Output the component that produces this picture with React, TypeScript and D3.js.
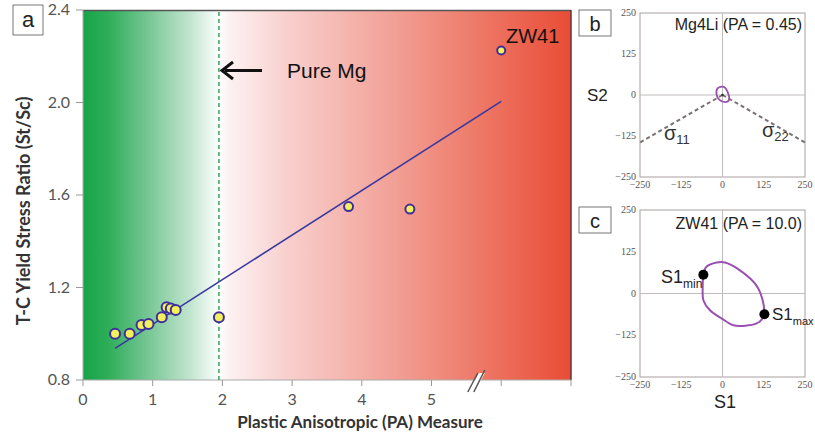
import React from 'react'
import * as d3 from 'd3'

// panel a data
const paValues = [0.46, 0.67, 0.84, 0.94, 1.13, 1.2, 1.26, 1.33, 1.95, 3.81, 4.69, 10.0]
const ratioValues = [1.0, 1.0, 1.038, 1.042, 1.071, 1.115, 1.109, 1.103, 1.071, 1.55, 1.539, 2.225]
const pointRadius = [5, 5, 5, 5, 5, 5, 5, 5, 5, 4.5, 4.5, 4]
const fitPA = [0.46, 10.0]
const fitRatio = [0.937, 2.005]
const xTicks = [0, 1, 2, 3, 4, 5]
const xTicksAfterBreak = [10, 14]
const yTicks = [0.8, 1.2, 1.6, 2.0, 2.4]
const pureMgPA = 1.95

// panels b and c
const stressTicks = [-250, -125, 0, 125, 250]
const mg4liLoop: [number, number][] = [[-15, 20], [4, 25], [16, 8], [20, -14], [8, -22], [-10, -14], [-18, 2]]
const sigmaLines: [number, number][][] = [[[0, 0], [-250, -145]], [[0, 0], [250, -145]]]
const zw41Loop: [number, number][] = [
  [-58, 56], [-48, 81], [-18, 93], [8, 93], [43, 76], [85, 44], [108, 16], [120, -14],
  [126, -48], [120, -76], [102, -90], [73, -96], [33, -95], [-2, -75], [-38, -50], [-58, -20], [-60, 21]
]
const s1Min: [number, number] = [-58, 56]
const s1Max: [number, number] = [127, -62]

const sans = 'Lato, "Open Sans", sans-serif'
const arial = '"Liberation Sans", Arial, sans-serif'
const serif = '"Liberation Serif", "DejaVu Serif", serif'

const gradStops = [
  [0, '#18a449'], [0.05, '#2dad58'], [0.13, '#74c592'], [0.22, '#c2e5cf'], [0.28, '#ffffff'],
  [0.3, '#fdf1f1'], [0.42, '#f8cfcd'], [0.6, '#f3a89f'], [0.8, '#ee7b6a'], [1, '#e94c36']
]

function Panel({ label, y0, y1, title, titleY }: any) {
  const sx = d3.scaleLinear().domain([-250, 250]).range([640, 805])
  const sy = d3.scaleLinear().domain([-250, 250]).range([y1, y0])
  return (
    <g>
      <rect x={579} y={y0 - 3} width={32} height={26} fill="#fff" stroke="#777" />
      <text x={595} y={y0 + 18} textAnchor="middle" fontFamily={arial} fontSize={20} fill="#222">{label}</text>
      <rect x={sx(-250)} y={sy(250)} width={sx(250) - sx(-250)} height={sy(-250) - sy(250)} fill="#fff" stroke="#aaa0a0" />
      <line x1={sx(0)} x2={sx(0)} y1={sy(250)} y2={sy(-250)} stroke="#c2bcbc" />
      <line x1={sx(-250)} x2={sx(250)} y1={sy(0)} y2={sy(0)} stroke="#c2bcbc" />
      {stressTicks.map(t => (
        <text key={'y' + t} x={636} y={sy(t) + 3} textAnchor="end" fontFamily={serif} fontSize={10} fill="#555">
          {t < 0 ? '\u2212' + Math.abs(t) : t}
        </text>
      ))}
      {stressTicks.map(t => (
        <text key={'x' + t} x={sx(t)} y={y1 + 11} textAnchor="middle" fontFamily={serif} fontSize={10} fill="#555">
          {t < 0 ? '\u2212' + Math.abs(t) : t}
        </text>
      ))}
      <text x={802} y={titleY} textAnchor="end" fontFamily={arial} fontSize={16} fill="#222">{title}</text>
    </g>
  )
}

export default function App() {
  const x = d3.scaleLinear().domain([0, 5.7, 10, 14]).range([83, 83 + 5.7 * 69.7, 83 + 6 * 69.7, 571])
  const y = d3.scaleLinear().domain([0.8, 2.4]).range([380, 10])

  const sx = d3.scaleLinear().domain([-250, 250]).range([640, 805])
  const syB = d3.scaleLinear().domain([-250, 250]).range([177, 13])
  const syC = d3.scaleLinear().domain([-250, 250]).range([377, 210])

  const loopB = d3.line<[number, number]>().x(d => sx(d[0])).y(d => syB(d[1])).curve(d3.curveCardinalClosed)
  const loopC = d3.line<[number, number]>().x(d => sx(d[0])).y(d => syC(d[1])).curve(d3.curveCardinalClosed)
  const fit = d3.line<number>().x(d => x(d)).y((d, i) => y(fitRatio[i]))

  const bx = x(5.65)
  return (
    <svg width={815} height={435} style={{ position: 'absolute', left: 0, top: 0, background: '#fff' }}>
      <defs>
        <linearGradient id="bg" gradientUnits="userSpaceOnUse" x1={83} x2={571} y1={0} y2={0}>
          {gradStops.map(([o, c]) => <stop key={o as number} offset={o as number} stopColor={c as string} />)}
        </linearGradient>
      </defs>

      {/* panel a */}
      <rect x={83} y={10} width={571 - 83} height={370} fill="url(#bg)" />
      <line x1={83} x2={571} y1={10.5} y2={10.5} stroke="#555" strokeWidth={1.5} />
      <line x1={571} x2={571} y1={10} y2={380} stroke="#5a3a36" strokeWidth={1.5} />
      <line x1={83} x2={83} y1={10} y2={380} stroke="#aaa" />
      <line x1={83} x2={571} y1={380} y2={380} stroke="#aaa" />
      {yTicks.map(t => (
        <g key={t}>
          <line x1={76} x2={83} y1={y(t)} y2={y(t)} stroke="#999" />
          <text x={70} y={y(t) + 5} textAnchor="end" fontFamily={sans} fontSize={16} fill="#555">{t.toFixed(1)}</text>
        </g>
      ))}
      {xTicks.map(t => (
        <g key={t}>
          <line x1={x(t)} x2={x(t)} y1={380} y2={386} stroke="#999" />
          <text x={x(t)} y={405} textAnchor="middle" fontFamily={sans} fontSize={16} fill="#555">{t}</text>
        </g>
      ))}
      {xTicksAfterBreak.map(t => (
        <line key={t} x1={x(t)} x2={x(t)} y1={380} y2={386} stroke="#999" />
      ))}
      <polygon points={`${bx - 8},392 ${bx + 2},373 ${bx + 8},373 ${bx - 2},392`} fill="#fff" />
      <line x1={bx - 9} y1={392} x2={bx + 1} y2={373} stroke="#555" strokeWidth={1.5} />
      <line x1={bx - 3} y1={392} x2={bx + 8} y2={370} stroke="#555" strokeWidth={1.5} />

      <line x1={x(pureMgPA)} x2={x(pureMgPA)} y1={12} y2={380} stroke="#3aa35a" strokeWidth={1.5} strokeDasharray="4,3" />
      <line x1={225} x2={262} y1={70.5} y2={70.5} stroke="#111" strokeWidth={3} />
      <path d="M233,62 L222,70.5 L233,79" fill="none" stroke="#111" strokeWidth={3} />
      <text x={287} y={78} fontFamily={arial} fontSize={21} fill="#111">Pure Mg</text>
      <text x={506} y={43} fontFamily={arial} fontSize={20} fill="#111">ZW41</text>

      <path d={fit(fitPA) || ''} fill="none" stroke="#3838a0" strokeWidth={1.6} />
      {paValues.map((p, i) => (
        <circle key={i} cx={x(p)} cy={y(ratioValues[i])} r={pointRadius[i]} fill="#f3f05c" stroke="#3f2f9c" strokeWidth={2} />
      ))}

      <rect x={13} y={5} width={30} height={30} fill="#fff" stroke="#777" />
      <text x={28} y={27} textAnchor="middle" fontFamily={arial} fontSize={22} fill="#222">a</text>
      <text transform="translate(30,211) rotate(-90)" textAnchor="middle" fontFamily={sans} fontWeight="bold" fontSize={18} fill="#333">
        T-C Yield Stress Ratio (St/Sc)
      </text>
      <text x={360} y={428} textAnchor="middle" fontFamily={sans} fontWeight="bold" fontSize={17} fill="#333">
        Plastic Anisotropic (PA) Measure
      </text>

      {/* panel b */}
      <Panel label="b" y0={13} y1={177} title="Mg4Li (PA = 0.45)" titleY={30} />
      <text x={587} y={101} fontFamily={arial} fontSize={17} fill="#222">S2</text>
      {sigmaLines.map((l, i) => (
        <line key={i} x1={sx(l[0][0])} y1={syB(l[0][1])} x2={sx(l[1][0])} y2={syB(l[1][1])} stroke="#7a7070" strokeWidth={2} strokeDasharray="4,3" />
      ))}
      <path d={loopB(mg4liLoop) || ''} fill="none" stroke="#9a50b0" strokeWidth={1.8} />
      <circle cx={sx(0)} cy={syB(0)} r={1.3} fill="#333" />
      <text x={664} y={140} fontFamily={arial} fontSize={20} fill="#333">σ<tspan fontSize={13} dy={4}>11</tspan></text>
      <text x={762} y={137} fontFamily={arial} fontSize={20} fill="#333">σ<tspan fontSize={13} dy={4}>22</tspan></text>

      {/* panel c */}
      <Panel label="c" y0={210} y1={377} title="ZW41 (PA = 10.0)" titleY={229} />
      <path d={loopC(zw41Loop) || ''} fill="none" stroke="#9a50b0" strokeWidth={2} />
      <circle cx={sx(s1Min[0])} cy={syC(s1Min[1])} r={5} fill="#000" />
      <circle cx={sx(s1Max[0])} cy={syC(s1Max[1])} r={5} fill="#000" />
      <text x={661} y={283} fontFamily={arial} fontSize={18} fill="#222">S1<tspan fontSize={12} dy={5}>min</tspan></text>
      <text x={772} y={320} fontFamily={arial} fontSize={17} fill="#222">S1<tspan fontSize={11} dy={5}>max</tspan></text>
      <text x={725} y={408} textAnchor="middle" fontFamily={arial} fontSize={18} fill="#222">S1</text>
    </svg>
  )
}
